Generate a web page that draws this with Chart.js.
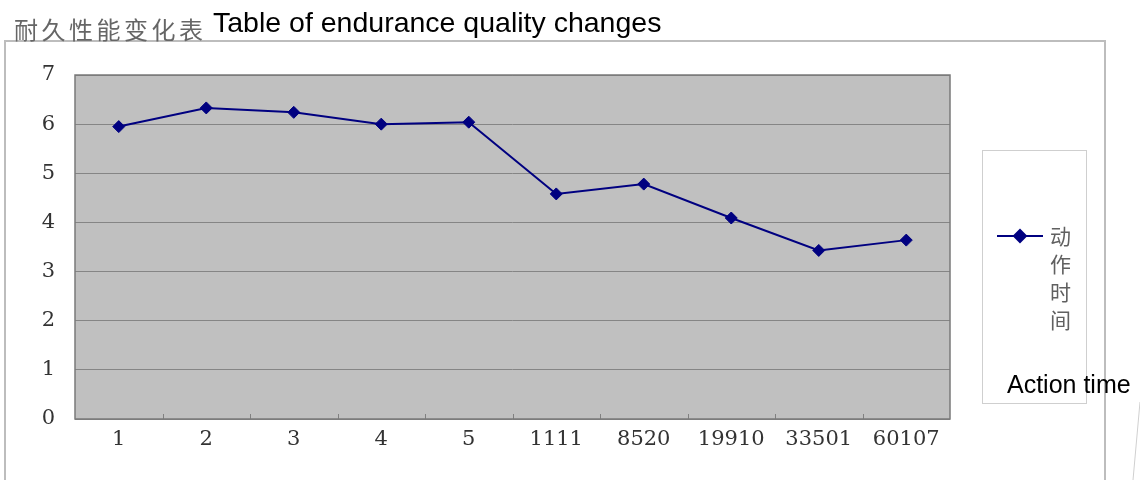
<!DOCTYPE html>
<html>
<head>
<meta charset="utf-8">
<script src="https://cdn.jsdelivr.net/npm/chart.js@4"></script>
<style>
    body { margin: 0; background: #fff; }
    #wrap { position: relative; width: 1140px; height: 480px; overflow: hidden; }
    #wrap canvas { position: absolute; left: 0; top: 0; }
    .txt { position: absolute; white-space: nowrap; line-height: 1; }
    #cnTitle { left: 14px; top: 11px; font: 24px "Noto Sans CJK SC"; color: #666; letter-spacing: 3.5px; }
    #enTitle { left: 213px; top: 6px; font: 28.5px "Liberation Sans", Arial; color: #000; }
    #legendText { left: 1050px; top: 221px; font: 21px "Noto Sans CJK SC"; color: #606060; line-height: 28px; }
    #enLegend { left: 1007px; top: 370px; font: 25px "Liberation Sans", Arial; color: #000; }
</style>
</head>
<body>
<div id="wrap">
    <canvas id="enduranceChart" width="1140" height="480"></canvas>
    <div class="txt" id="cnTitle">耐久性能变化表</div>
    <div class="txt" id="enTitle">Table of endurance quality changes</div>
    <div class="txt" id="legendText">动<br>作<br>时<br>间</div>
    <div class="txt" id="enLegend">Action time</div>
</div>
<script>
// categories along the x axis
const categories = ['1', '2', '3', '4', '5', '1111', '8520', '19910', '33501', '60107'];

// series: 动作时间
const seriesName = '动作时间';
const actionTime = [5.95, 6.33, 6.24, 6.0, 6.04, 4.58, 4.78, 4.09, 3.43, 3.64];

// y axis ticks
const yTicks = [0, 1, 2, 3, 4, 5, 6, 7];

const lineColor = '#000080';

// grey plot area, outer frame, legend box and inside tick marks (excel look)
const excelLook = {
    id: 'excelLook',
    beforeDraw(chart) {
        const ctx = chart.ctx;
        const area = chart.chartArea;
        ctx.save();

        // outer chart frame
        ctx.strokeStyle = '#bdbdbd';
        ctx.lineWidth = 2;
        ctx.beginPath();
        ctx.moveTo(5, 490);
        ctx.lineTo(5, 41);
        ctx.lineTo(1105, 41);
        ctx.lineTo(1105, 490);
        ctx.stroke();

        // stray line at the bottom right
        ctx.strokeStyle = '#d0d0d0';
        ctx.lineWidth = 1;
        ctx.beginPath();
        ctx.moveTo(1140, 402);
        ctx.lineTo(1133, 480);
        ctx.stroke();

        // plot background
        ctx.fillStyle = '#c0c0c0';
        ctx.fillRect(area.left, area.top, area.right - area.left, area.bottom - area.top);

        // legend box
        ctx.strokeStyle = '#cfcfcf';
        ctx.lineWidth = 1;
        ctx.strokeRect(982.5, 150.5, 104, 253);
        ctx.restore();
    },
    beforeDatasetsDraw(chart) {
        const ctx = chart.ctx;
        const area = chart.chartArea;
        const xScale = chart.scales.x;
        ctx.save();

        // small ticks between categories, pointing into the plot
        ctx.strokeStyle = '#808080';
        ctx.lineWidth = 1;
        for (let i = 1; i < categories.length; i++) {
            const x = Math.round((xScale.getPixelForTick(i - 1) + xScale.getPixelForTick(i)) / 2) + 0.5;
            ctx.beginPath();
            ctx.moveTo(x, area.bottom);
            ctx.lineTo(x, area.bottom - 5);
            ctx.stroke();
        }

        // plot border
        ctx.strokeStyle = '#7a7a7a';
        ctx.lineWidth = 1.5;
        ctx.strokeRect(area.left, area.top, area.right - area.left, area.bottom - area.top);
        ctx.restore();
    },
    afterDraw(chart) {
        // legend line with the marker
        const ctx = chart.ctx;
        const ds = chart.data.datasets[0];
        ctx.save();
        ctx.strokeStyle = ds.borderColor;
        ctx.lineWidth = ds.borderWidth;
        ctx.beginPath();
        ctx.moveTo(997, 236);
        ctx.lineTo(1043, 236);
        ctx.stroke();
        Chart.helpers.drawPoint(ctx, {
            pointStyle: 'rectRot',
            radius: ds.pointRadius,
            borderWidth: 1
        }, 1020, 236);
        ctx.fillStyle = ds.pointBackgroundColor;
        ctx.fill();
        ctx.restore();
    }
};

const tickFont = { family: '"DejaVu Serif", serif', size: 21 };

const ctx = document.getElementById('enduranceChart').getContext('2d');
const enduranceChart = new Chart(ctx, {
    type: 'line',
    data: {
        labels: categories,
        datasets: [{
            label: seriesName,
            data: actionTime,
            borderColor: lineColor,
            borderWidth: 2,
            pointStyle: 'rectRot',
            pointRadius: 6,
            pointBackgroundColor: lineColor,
            pointBorderColor: lineColor,
            pointBorderWidth: 1,
            tension: 0
        }]
    },
    options: {
        responsive: false,
        animation: false,
        layout: {
            padding: { left: 8, top: 75, right: 190, bottom: 0 }
        },
        scales: {
            x: {
                offset: true,
                grid: { display: false },
                border: { display: false },
                ticks: {
                    autoSkip: false,
                    maxRotation: 0,
                    padding: 0,
                    color: '#333',
                    font: tickFont
                },
                afterFit(scale) { scale.height = 61; }
            },
            y: {
                min: 0,
                max: 7,
                afterBuildTicks(scale) {
                    scale.ticks = yTicks.map(v => ({ value: v }));
                },
                grid: { color: '#858585', lineWidth: 1, drawTicks: false },
                border: { display: false },
                ticks: {
                    padding: 20,
                    color: '#333',
                    font: tickFont
                },
                afterFit(scale) { scale.width = 67; }
            }
        },
        plugins: {
            legend: { display: false },
            tooltip: { enabled: false }
        }
    },
    plugins: [excelLook]
});
</script>
</body>
</html>
